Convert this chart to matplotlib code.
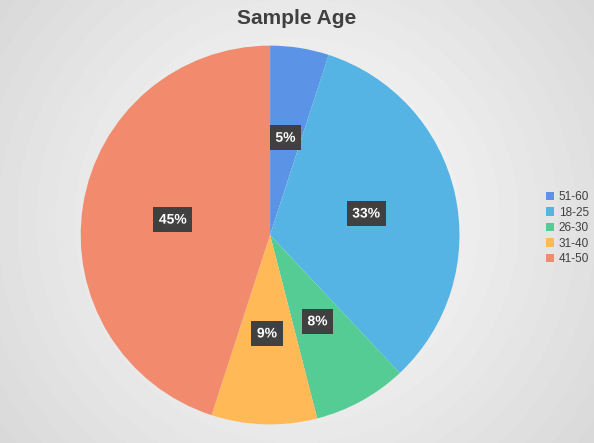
import numpy as np
import matplotlib
matplotlib.use('Agg')
import matplotlib.pyplot as plt
import matplotlib.patheffects as pe

plt.rcParams['font.family'] = ['Liberation Sans', 'DejaVu Sans']

labels = ['51-60', '18-25', '26-30', '31-40', '41-50']
values = [5, 33, 8, 9, 45]
colors = ['#5b93e6', '#55b4e4', '#55cc93', '#ffb957', '#f28a6e']

fig = plt.figure(figsize=(5.94, 4.43), dpi=100)

# radial grey background
bg = fig.add_axes([0, 0, 1, 1])
yy, xx = np.mgrid[0:443, 0:594]
d = np.sqrt(((xx - 297) / 420.0) ** 2 + ((yy - 221) / 420.0) ** 2)
shade = 1.0 - 0.17 * np.clip(d, 0, 1)
bg.imshow(shade, cmap='gray', vmin=0, vmax=1, aspect='auto', extent=[0, 1, 0, 1])
bg.axis('off')

ax = fig.add_axes([0.1347, 0.042, 0.64, 0.855])
wedges, texts, autotexts = ax.pie(values, colors=colors, startangle=90, counterclock=False,
                                  autopct='%d%%', pctdistance=0.52,
                                  wedgeprops=dict(linewidth=0))
for t in autotexts:
    t.set_color('white')
    t.set_fontsize(10)
    t.set_fontweight('bold')
    t.set_bbox(dict(boxstyle='square,pad=0.4', facecolor='#404040', edgecolor='none'))
    t.set_path_effects([pe.withSimplePatchShadow(offset=(2, -2), alpha=0.35)])
ax.set_xlim(-1, 1)
ax.set_ylim(-1, 1)
ax.set_aspect('equal')

fig.text(0.5, 0.958, 'Sample Age', ha='center', va='center', fontsize=15,
         fontweight='bold', color='#404040')

fig.legend(wedges, labels, loc='center left', bbox_to_anchor=(0.905, 0.485),
           frameon=False, fontsize=8.5, handlelength=0.7, handleheight=0.7,
           handletextpad=0.4, labelspacing=0.3, borderpad=0.2,
           labelcolor='#404040')

fig.savefig('out.png', dpi=100)
